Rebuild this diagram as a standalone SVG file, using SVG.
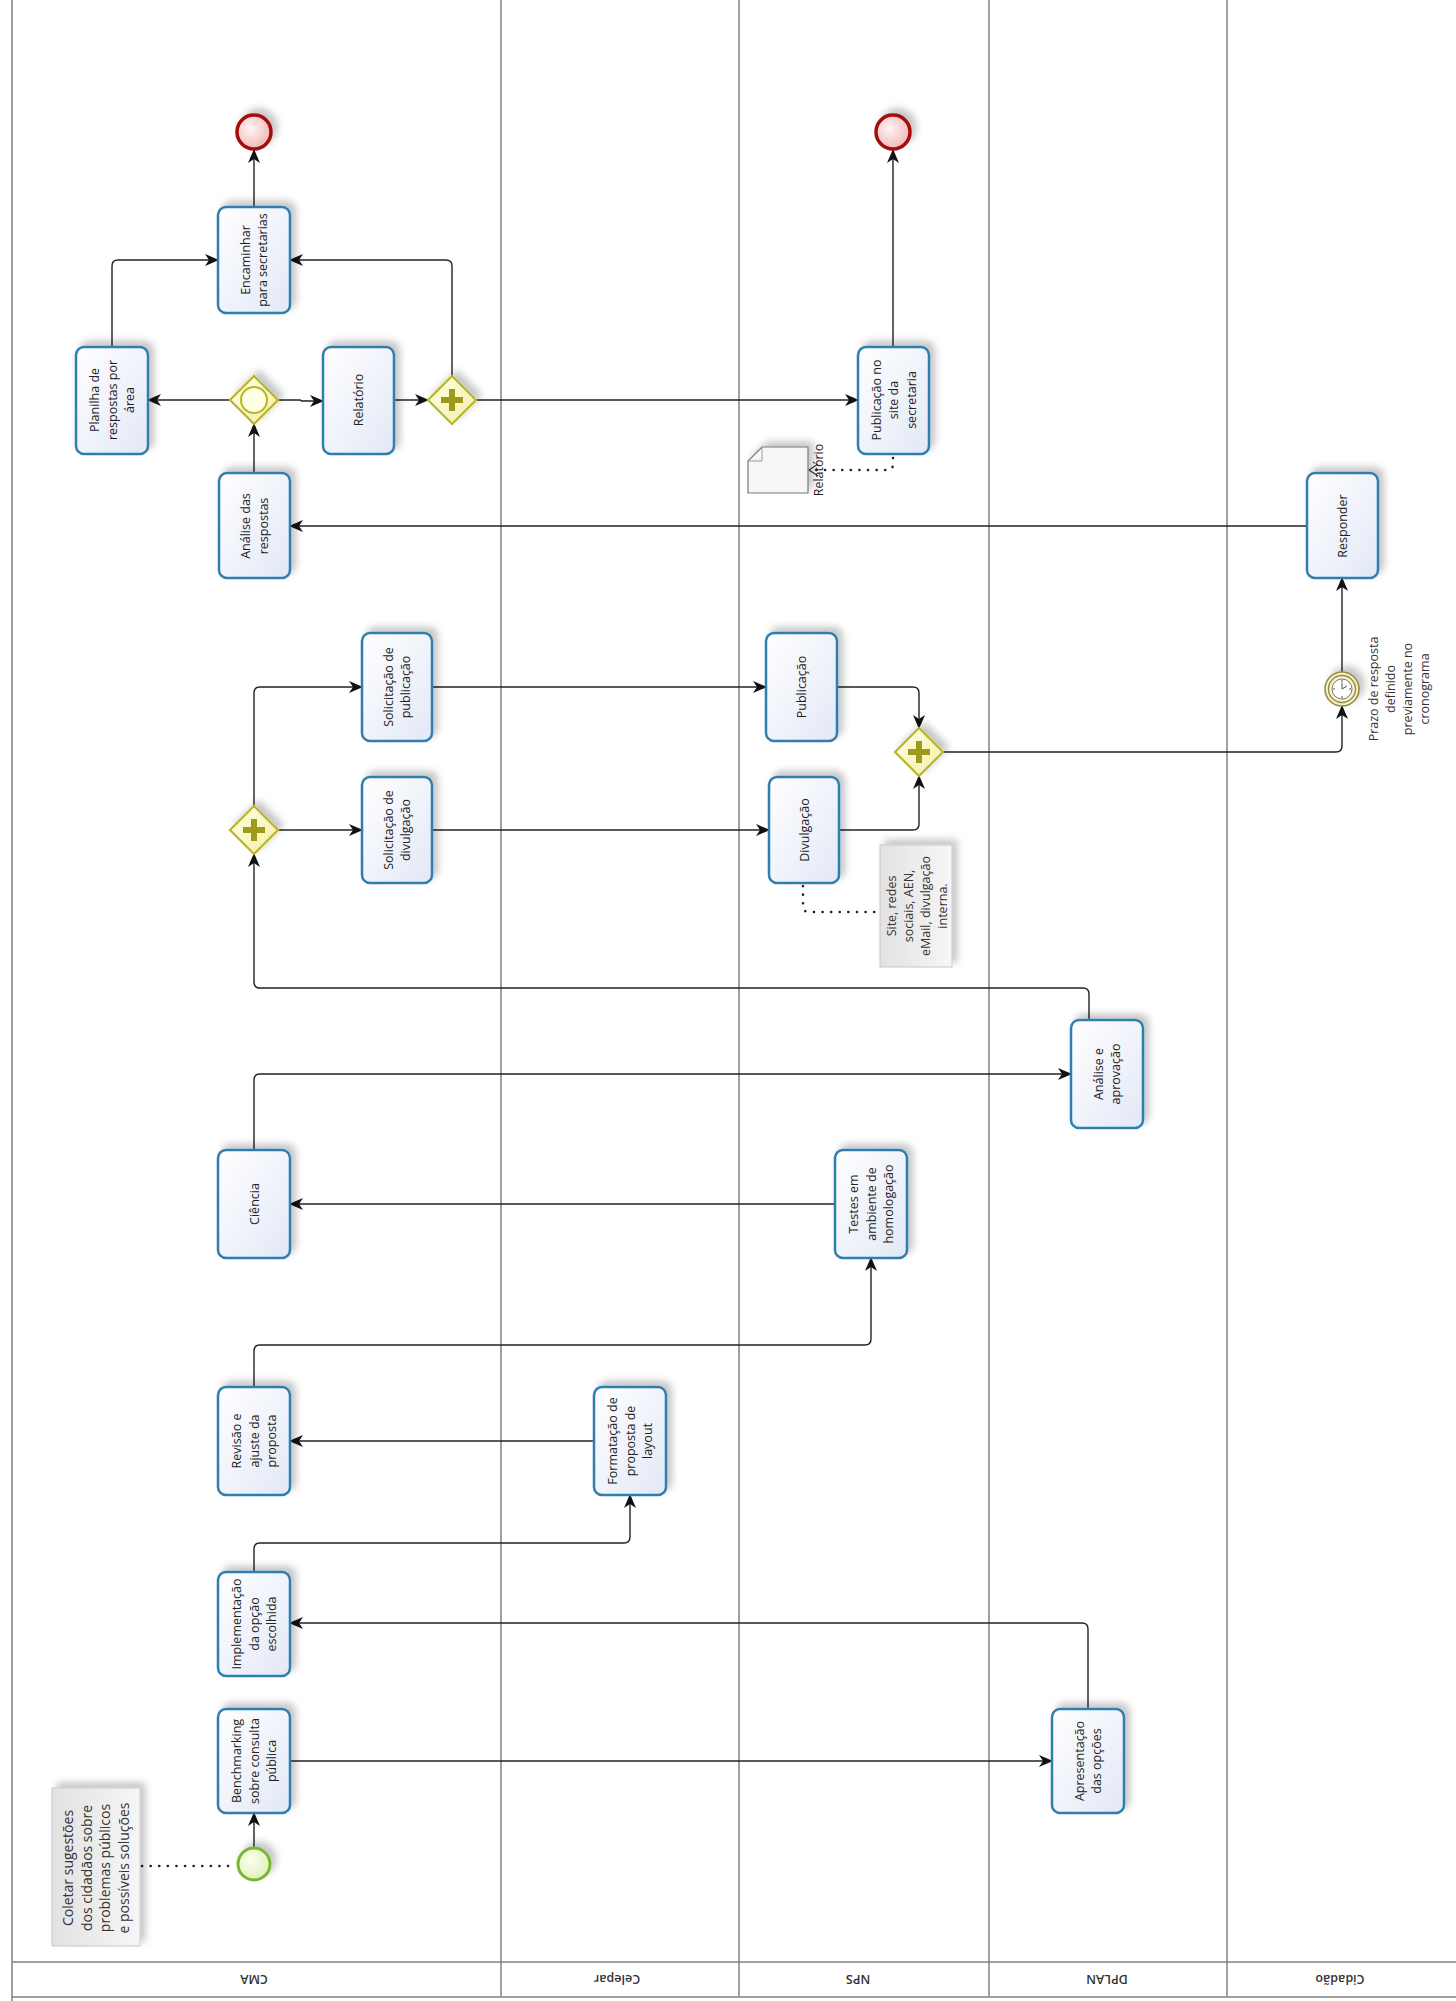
<svg xmlns="http://www.w3.org/2000/svg" width="1456" height="2001" viewBox="0 0 1456 2001">
<defs>
<style>
.lane{stroke:#808080;stroke-width:1.5;fill:none}
.task{fill:url(#gTask);stroke:#2f7fb0;stroke-width:2.5}
.tt{font-family:"Open Sans","Noto Sans",sans-serif;font-size:12.5px;fill:#222;text-anchor:middle}
.lt{font-family:"Open Sans","Noto Sans",sans-serif;font-size:12.5px;font-weight:600;fill:#333;text-anchor:middle}
.nt{font-family:"Open Sans","Noto Sans",sans-serif;font-size:12.5px;fill:#333;text-anchor:middle}
.gw{fill:url(#gGate);stroke:#b9b52a;stroke-width:2.2}
.plus{fill:#9d9a1c}
.con{fill:none;stroke:#222;stroke-width:1.4;marker-end:url(#arr)}
.dot{fill:none;stroke:#222;stroke-width:2.6;stroke-dasharray:0.1 8.5;stroke-linecap:round}
.note{fill:url(#gNote);stroke:#c8c8c8;stroke-width:1}
</style>
<linearGradient id="gTask" x1="0" y1="0" x2="1" y2="1"><stop offset="0" stop-color="#ffffff"/><stop offset="1" stop-color="#e2e8f6"/></linearGradient>
<linearGradient id="gGate" x1="0" y1="0" x2="1" y2="1"><stop offset="0" stop-color="#ffffe8"/><stop offset="1" stop-color="#f3efa6"/></linearGradient>
<linearGradient id="gNote" x1="0" y1="0" x2="1" y2="0"><stop offset="0" stop-color="#e2e2e2"/><stop offset="1" stop-color="#f6f6f6"/></linearGradient>
<radialGradient id="gEnd" cx="0.4" cy="0.4" r="0.7"><stop offset="0" stop-color="#fff4f4"/><stop offset="1" stop-color="#efb0b0"/></radialGradient>
<radialGradient id="gStart" cx="0.4" cy="0.4" r="0.7"><stop offset="0" stop-color="#fbfff0"/><stop offset="1" stop-color="#dcf0b4"/></radialGradient>
<filter id="sh" x="-40%" y="-40%" width="180%" height="180%"><feDropShadow dx="5" dy="-5" stdDeviation="3.5" flood-color="#000" flood-opacity="0.22"/></filter>
<marker id="arr" markerUnits="userSpaceOnUse" markerWidth="14" markerHeight="12" viewBox="0 0 14 12" refX="13" refY="6" orient="auto"><path d="M0,0 L14,6 L0,12 L4,6 z" fill="#111"/></marker>
</defs>
<rect width="1456" height="2001" fill="#ffffff"/>

<g id="pool">
<line class="lane" x1="12" y1="0" x2="12" y2="2001"/>
<line class="lane" x1="501" y1="0" x2="501" y2="1997"/>
<line class="lane" x1="739" y1="0" x2="739" y2="1997"/>
<line class="lane" x1="989" y1="0" x2="989" y2="1997"/>
<line class="lane" x1="1227" y1="0" x2="1227" y2="1997"/>
<line class="lane" x1="12" y1="1962" x2="1456" y2="1962"/>
<line class="lane" x1="12" y1="1997" x2="1456" y2="1997"/>
<text class="lt" transform="translate(254,1979.5) rotate(180)" y="4.5">CMA</text>
<text class="lt" transform="translate(617,1979.5) rotate(180)" y="4.5">Celepar</text>
<text class="lt" transform="translate(858,1979.5) rotate(180)" y="4.5">NPS</text>
<text class="lt" transform="translate(1107,1979.5) rotate(180)" y="4.5">DPLAN</text>
<text class="lt" transform="translate(1340,1979.5) rotate(180)" y="4.5">Cidadão</text>
</g>

<g id="connectors">
<path class="con" d="M254,1848 L254,1813"/>
<path class="con" d="M290,1761 L1052,1761"/>
<path class="con" d="M1088,1709 L1088,1629 Q1088,1623 1082,1623 L290,1623"/>
<path class="con" d="M254,1572 L254,1549 Q254,1543 260,1543 L624,1543 Q630,1543 630,1537 L630,1495"/>
<path class="con" d="M594,1441 L290,1441"/>
<path class="con" d="M254,1387 L254,1351 Q254,1345 260,1345 L865,1345 Q871,1345 871,1339 L871,1258"/>
<path class="con" d="M835,1204 L290,1204"/>
<path class="con" d="M254,1150 L254,1080 Q254,1074 260,1074 L1071,1074"/>
<path class="con" d="M1089,1020 L1089,994 Q1089,988 1083,988 L260,988 Q254,988 254,982 L254,854"/>
<path class="con" d="M254,806 L254,693 Q254,687 260,687 L362,687"/>
<path class="con" d="M278,830 L362,830"/>
<path class="con" d="M432,687 L766,687"/>
<path class="con" d="M432,830 L769,830"/>
<path class="con" d="M837,687 L913,687 Q919,687 919,693 L919,728"/>
<path class="con" d="M839,830 L913,830 Q919,830 919,824 L919,776"/>
<path class="con" d="M943,752 L1336,752 Q1342,752 1342,746 L1342,706"/>
<path class="con" d="M1342,672 L1342,578"/>
<path class="con" d="M1307,526 L290,526"/>
<path class="con" d="M254,473 L254,424"/>
<path class="con" d="M230,400 L148,400"/>
<path class="con" d="M278,400 L300,400 L302,401 L323,401"/>
<path class="con" d="M394,400 L428,400"/>
<path class="con" d="M452,376 L452,266 Q452,260 446,260 L290,260"/>
<path class="con" d="M112,347 L112,266 Q112,260 118,260 L218,260"/>
<path class="con" d="M476,400 L858,400"/>
<path class="con" d="M254,207 L254,150"/>
<path class="con" d="M893,347 L893,150"/>
<path class="dot" d="M142,1866 L236,1866"/>
<path class="dot" d="M893,458 L893,464 Q893,470 887,470 L812,470"/>
<path fill="none" stroke="#333" stroke-width="1.2" d="M818,464 L809,470 L818,476"/>
<path class="dot" d="M803,886 L803,906 Q803,912 809,912 L878,912"/>
</g>

<g id="start" filter="url(#sh)"><circle cx="254" cy="1864" r="16" fill="url(#gStart)" stroke="#78b633" stroke-width="3"/></g>
<g id="end_cma" filter="url(#sh)"><circle cx="254" cy="132" r="17" fill="url(#gEnd)" stroke="#a50d0d" stroke-width="3.5"/></g>
<g id="end_nps" filter="url(#sh)"><circle cx="893" cy="132" r="17" fill="url(#gEnd)" stroke="#a50d0d" stroke-width="3.5"/></g>
<g id="timer" filter="url(#sh)">
<circle cx="1342" cy="689" r="17" fill="#f4eed2" stroke="#9a8c3e" stroke-width="1.6"/>
<circle cx="1342" cy="689" r="13.5" fill="#f7f1d6" stroke="#9a8c3e" stroke-width="1.4"/>
<circle cx="1342" cy="689" r="10" fill="#ffffff" stroke="#777" stroke-width="1"/>
<path d="M1342,680 L1342,682 M1342,696 L1342,698 M1333,689 L1335,689 M1349,689 L1351,689 M1342,689 L1342,682.5 M1342,689 L1347,686" stroke="#555" stroke-width="1" fill="none"/>
</g>
<g id="timer_label"><text class="nt" transform="translate(1342,689) rotate(-90)"><tspan x="0" y="36">Prazo de resposta</tspan><tspan x="0" y="53">definido</tspan><tspan x="0" y="70">previamente no</tspan><tspan x="0" y="87">cronograma</tspan></text></g>

<g id="gw_inclusive" filter="url(#sh)"><path class="gw" d="M254,376 L278,400 L254,424 L230,400 z"/><circle cx="254" cy="400" r="13" fill="#ffffe4" stroke="#b9b52a" stroke-width="2"/></g>
<g id="gw_par1" filter="url(#sh)"><path class="gw" d="M452,376 L476,400 L452,424 L428,400 z"/><path class="plus" d="M449,389 h6 v8 h8 v6 h-8 v8 h-6 v-8 h-8 v-6 h8 z"/></g>
<g id="gw_fork" filter="url(#sh)"><path class="gw" d="M254,806 L278,830 L254,854 L230,830 z"/><path class="plus" d="M251,819 h6 v8 h8 v6 h-8 v8 h-6 v-8 h-8 v-6 h8 z"/></g>
<g id="gw_join" filter="url(#sh)"><path class="gw" d="M919,728 L943,752 L919,776 L895,752 z"/><path class="plus" d="M916,741 h6 v8 h8 v6 h-8 v8 h-6 v-8 h-8 v-6 h8 z"/></g>

<g id="t_benchmarking" filter="url(#sh)"><rect class="task" x="218" y="1709" width="72" height="104" rx="8"/></g>
<g id="t_implementacao" filter="url(#sh)"><rect class="task" x="218" y="1572" width="72" height="104" rx="8"/></g>
<g id="t_revisao" filter="url(#sh)"><rect class="task" x="218" y="1387" width="72" height="108" rx="8"/></g>
<g id="t_formatacao" filter="url(#sh)"><rect class="task" x="594" y="1387" width="72" height="108" rx="8"/></g>
<g id="t_testes" filter="url(#sh)"><rect class="task" x="835" y="1150" width="72" height="108" rx="8"/></g>
<g id="t_ciencia" filter="url(#sh)"><rect class="task" x="218" y="1150" width="72" height="108" rx="8"/></g>
<g id="t_analise_aprov" filter="url(#sh)"><rect class="task" x="1071" y="1020" width="72" height="108" rx="8"/></g>
<g id="t_apresentacao" filter="url(#sh)"><rect class="task" x="1052" y="1709" width="72" height="104" rx="8"/></g>
<g id="t_solic_div" filter="url(#sh)"><rect class="task" x="362" y="777" width="70" height="106" rx="8"/></g>
<g id="t_solic_pub" filter="url(#sh)"><rect class="task" x="362" y="633" width="70" height="108" rx="8"/></g>
<g id="t_publicacao" filter="url(#sh)"><rect class="task" x="766" y="633" width="71" height="108" rx="8"/></g>
<g id="t_divulgacao" filter="url(#sh)"><rect class="task" x="769" y="777" width="70" height="106" rx="8"/></g>
<g id="t_responder" filter="url(#sh)"><rect class="task" x="1307" y="473" width="71" height="105" rx="8"/></g>
<g id="t_analise_resp" filter="url(#sh)"><rect class="task" x="219" y="473" width="71" height="105" rx="8"/></g>
<g id="t_planilha" filter="url(#sh)"><rect class="task" x="76" y="347" width="72" height="107" rx="8"/></g>
<g id="t_relatorio" filter="url(#sh)"><rect class="task" x="323" y="347" width="71" height="107" rx="8"/></g>
<g id="t_encaminhar" filter="url(#sh)"><rect class="task" x="218" y="207" width="72" height="106" rx="8"/></g>
<g id="t_public_site" filter="url(#sh)"><rect class="task" x="858" y="347" width="71" height="107" rx="8"/></g>

<g id="labels">
<text class="tt" transform="translate(254,1761) rotate(-90)"><tspan x="0" y="-13">Benchmarking</tspan><tspan x="0" y="4.5">sobre consulta</tspan><tspan x="0" y="22">pública</tspan></text>
<text class="tt" transform="translate(254,1624) rotate(-90)"><tspan x="0" y="-13">Implementação</tspan><tspan x="0" y="4.5">da opção</tspan><tspan x="0" y="22">escolhida</tspan></text>
<text class="tt" transform="translate(254,1441) rotate(-90)"><tspan x="0" y="-13">Revisão e</tspan><tspan x="0" y="4.5">ajuste da</tspan><tspan x="0" y="22">proposta</tspan></text>
<text class="tt" transform="translate(630,1441) rotate(-90)"><tspan x="0" y="-13">Formatação de</tspan><tspan x="0" y="4.5">proposta de</tspan><tspan x="0" y="22">layout</tspan></text>
<text class="tt" transform="translate(871,1204) rotate(-90)"><tspan x="0" y="-13">Testes em</tspan><tspan x="0" y="4.5">ambiente de</tspan><tspan x="0" y="22">homologação</tspan></text>
<text class="tt" transform="translate(254,1204) rotate(-90)"><tspan x="0" y="4.5">Ciência</tspan></text>
<text class="tt" transform="translate(1107,1074) rotate(-90)"><tspan x="0" y="-4.5">Análise e</tspan><tspan x="0" y="13">aprovação</tspan></text>
<text class="tt" transform="translate(1088,1761) rotate(-90)"><tspan x="0" y="-4.5">Apresentação</tspan><tspan x="0" y="13">das opções</tspan></text>
<text class="tt" transform="translate(397,830) rotate(-90)"><tspan x="0" y="-4.5">Solicitação de</tspan><tspan x="0" y="13">divulgação</tspan></text>
<text class="tt" transform="translate(397,687) rotate(-90)"><tspan x="0" y="-4.5">Solicitação de</tspan><tspan x="0" y="13">publicação</tspan></text>
<text class="tt" transform="translate(801.5,687) rotate(-90)"><tspan x="0" y="4.5">Publicação</tspan></text>
<text class="tt" transform="translate(804,830) rotate(-90)"><tspan x="0" y="4.5">Divulgação</tspan></text>
<text class="tt" transform="translate(1342.5,526) rotate(-90)"><tspan x="0" y="4.5">Responder</tspan></text>
<text class="tt" transform="translate(254.5,526) rotate(-90)"><tspan x="0" y="-4.5">Análise das</tspan><tspan x="0" y="13">respostas</tspan></text>
<text class="tt" transform="translate(112,400) rotate(-90)"><tspan x="0" y="-13">Planilha de</tspan><tspan x="0" y="4.5">respostas por</tspan><tspan x="0" y="22">área</tspan></text>
<text class="tt" transform="translate(358.5,400) rotate(-90)"><tspan x="0" y="4.5">Relatório</tspan></text>
<text class="tt" transform="translate(254,260) rotate(-90)"><tspan x="0" y="-4.5">Encaminhar</tspan><tspan x="0" y="13">para secretarias</tspan></text>
<text class="tt" transform="translate(893.5,400) rotate(-90)"><tspan x="0" y="-13">Publicação no</tspan><tspan x="0" y="4.5">site da</tspan><tspan x="0" y="22">secretaria</tspan></text>
</g>

<g id="data_relatorio" filter="url(#sh)">
<path d="M762,447 L808,447 L808,493 L748,493 L748,461 z" fill="#f6f6f6" stroke="#777" stroke-width="1.2"/>
<path d="M748,461 L762,461 L762,447" fill="none" stroke="#999" stroke-width="1"/>
</g>
<g id="data_label"><text class="tt" transform="translate(823,470) rotate(-90)"><tspan x="0" y="0">Relatório</tspan></text></g>

<g id="note_coletar">
<rect class="note" x="52" y="1788" width="88" height="158" filter="url(#sh)"/>
<text class="nt" style="font-size:14px" transform="translate(96,1868) rotate(-90)"><tspan x="0" y="-23">Coletar sugestões</tspan><tspan x="0" y="-4.5">dos cidadãos sobre</tspan><tspan x="0" y="14">problemas públicos</tspan><tspan x="0" y="32.5">e possíveis soluções</tspan></text>
</g>
<g id="note_site">
<rect class="note" x="880" y="845" width="72" height="122" filter="url(#sh)"/>
<text class="nt" transform="translate(917,906) rotate(-90)"><tspan x="0" y="-21">Site, redes</tspan><tspan x="0" y="-4">sociais, AEN,</tspan><tspan x="0" y="13">eMail, divulgação</tspan><tspan x="0" y="30">interna.</tspan></text>
</g>
</svg>
